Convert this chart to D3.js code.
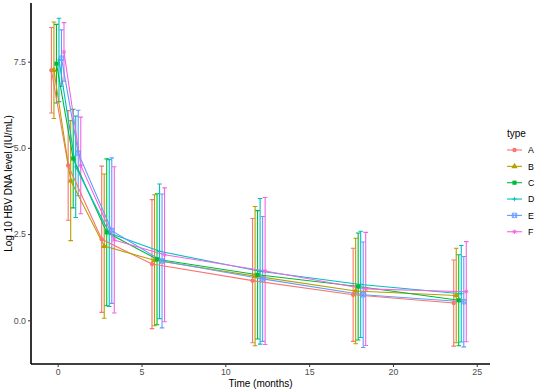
<!DOCTYPE html>
<html>
<head>
<meta charset="utf-8">
<script src="https://cdn.jsdelivr.net/npm/d3@7"></script>
<style>
  body { margin: 0; background: #fff; }
  text { font-family: "Liberation Sans", Arial, sans-serif; }
</style>
</head>
<body>
<svg id="chart"></svg>
<script>
// time points (months)
var times = [0, 1, 3, 6, 12, 18, 24];
var types = ["A", "B", "C", "D", "E", "F"];
var colors = ["#F8766D", "#B79F00", "#00BA38", "#00BFC4", "#619CFF", "#F564E3"];

// mean log10 HBV DNA and sd per type
var meanA = [7.25, 4.49, 2.35, 1.63, 1.15, 0.74, 0.50];
var sdA   = [1.24, 1.59, 2.12, 1.87, 1.80, 1.35, 1.25];
var meanB = [7.25, 4.05, 2.15, 1.74, 1.28, 0.85, 0.72];
var sdB   = [1.40, 1.74, 2.09, 1.90, 2.02, 1.53, 1.37];
var meanC = [7.44, 4.69, 2.55, 1.77, 1.32, 0.98, 0.58];
var sdC   = [1.14, 1.43, 2.13, 1.90, 1.86, 1.55, 1.32];
var meanD = [7.55, 4.45, 2.53, 2.00, 1.42, 1.04, 0.77];
var sdD   = [1.21, 1.47, 2.13, 1.95, 2.11, 1.54, 1.40];
var meanE = [7.60, 4.85, 2.60, 1.72, 1.20, 0.74, 0.54];
var sdE   = [0.82, 1.24, 2.11, 1.94, 1.81, 1.53, 1.31];
var meanF = [7.78, 4.49, 2.33, 1.90, 1.43, 0.91, 0.83];
var sdF   = [0.85, 1.40, 2.12, 1.94, 2.13, 1.64, 1.45];

var xTicks = [0, 5, 10, 15, 20, 25];
var yTicks = [0, 2.5, 5, 7.5];

var means = [meanA, meanB, meanC, meanD, meanE, meanF];
var sds = [sdA, sdB, sdC, sdD, sdE, sdF];

var series = types.map(function(t, i) {
  return {
    type: t,
    color: colors[i],
    dodge: -0.375 + i * 0.15,
    values: times.map(function(tm, j) {
      return { time: tm, mean: means[i][j], sd: sds[i][j] };
    })
  };
});

var svgWidth = 536, svgHeight = 391;
var panel = { left: 31, right: 490, top: 3, bottom: 364 };

var svg = d3.select("#chart")
  .attr("width", svgWidth)
  .attr("height", svgHeight);

var x = d3.scaleLinear()
  .domain([-1.593, 25.79])
  .range([panel.left, panel.right]);

var y = d3.scaleLinear()
  .domain([-1.267, 9.20])
  .range([panel.bottom, panel.top]);

// shapes like ggplot 16,17,15,3,7,8
function shapePath(type, s) {
  var r = s;
  switch (type) {
    case "A": return d3.symbol(d3.symbolCircle, Math.PI * r * r)();
    case "B": return d3.symbol(d3.symbolTriangle, 2.2 * r * r * 1.6)();
    case "C": return d3.symbol(d3.symbolSquare, 3.6 * r * r)();
    case "D": return "M" + (-r) + ",0H" + r + "M0," + (-r) + "V" + r;
    case "E": return "M" + (-r) + "," + (-r) + "H" + r + "V" + r + "H" + (-r) + "Z" +
                     "M" + (-r) + "," + (-r) + "L" + r + "," + r + "M" + r + "," + (-r) + "L" + (-r) + "," + r;
    case "F": var q = r * 0.72;
              return "M" + (-r) + ",0H" + r + "M0," + (-r) + "V" + r +
                     "M" + (-q) + "," + (-q) + "L" + q + "," + q + "M" + q + "," + (-q) + "L" + (-q) + "," + q;
  }
}
var filled = { A: true, B: true, C: true, D: false, E: false, F: false };

var capHalf = 0.135;

var line = d3.line()
  .x(function(d) { return x(d.px); })
  .y(function(d) { return y(d.mean); });

// error bars
series.forEach(function(s) {
  var g = svg.append("g").attr("class", "errbars");
  s.values.forEach(function(d) {
    var cx = d.time + s.dodge;
    var lo = d.mean - d.sd, hi = d.mean + d.sd;
    g.append("path")
      .attr("d", "M" + x(cx - capHalf) + "," + y(hi) + "H" + x(cx + capHalf) +
                 "M" + x(cx) + "," + y(hi) + "V" + y(lo) +
                 "M" + x(cx - capHalf) + "," + y(lo) + "H" + x(cx + capHalf))
      .attr("fill", "none")
      .attr("stroke", s.color)
      .attr("stroke-width", 1.1);
  });
});

// lines
series.forEach(function(s) {
  svg.append("path")
    .datum(s.values.map(function(d) { return { px: d.time + s.dodge, mean: d.mean }; }))
    .attr("fill", "none")
    .attr("stroke", s.color)
    .attr("stroke-width", 1.1)
    .attr("d", line);
});

// points
series.forEach(function(s) {
  svg.selectAll(null)
    .data(s.values)
    .enter()
    .append("path")
    .attr("transform", function(d) { return "translate(" + x(d.time + s.dodge) + "," + y(d.mean) + ")"; })
    .attr("d", shapePath(s.type, 2.2))
    .attr("fill", filled[s.type] ? s.color : "none")
    .attr("stroke", s.color)
    .attr("stroke-width", filled[s.type] ? 0 : 0.9);
});

// axes
var xAxis = svg.append("g")
  .attr("transform", "translate(0," + panel.bottom + ")")
  .call(d3.axisBottom(x).tickValues(xTicks).tickFormat(d3.format("d")).tickSize(3).tickPadding(2));
var yAxis = svg.append("g")
  .attr("transform", "translate(" + panel.left + ",0)")
  .call(d3.axisLeft(y).tickValues(yTicks).tickFormat(d3.format(".1f")).tickSize(3).tickPadding(2));

[xAxis, yAxis].forEach(function(a) {
  a.select(".domain").attr("stroke", "#000").attr("stroke-width", 1.6);
  a.selectAll(".tick line").attr("stroke", "#333").attr("stroke-width", 1);
  a.selectAll(".tick text")
    .attr("fill", "#4D4D4D")
    .style("font-size", "8.8px")
    .style("font-family", "'Liberation Sans', Arial, sans-serif");
});
// ggplot axis lines don't have end ticks
xAxis.select(".domain").attr("d", "M" + panel.left + ",0H" + panel.right);
yAxis.select(".domain").attr("d", "M0," + panel.bottom + "V" + panel.top);

// axis titles
svg.append("text")
  .attr("x", (panel.left + panel.right) / 2)
  .attr("y", 387)
  .attr("text-anchor", "middle")
  .style("font-size", "10px")
  .text("Time (months)");

svg.append("text")
  .attr("transform", "translate(12," + ((panel.top + panel.bottom) / 2) + ") rotate(-90)")
  .attr("text-anchor", "middle")
  .style("font-size", "10px")
  .text("Log 10 HBV DNA level (IU/mL)");

// legend
var legend = svg.append("g").attr("transform", "translate(506,0)");
legend.append("text")
  .attr("x", 1)
  .attr("y", 137)
  .style("font-size", "10px")
  .text("type");

series.forEach(function(s, i) {
  var ly = 150 + i * 16.35;
  var k = legend.append("g").attr("transform", "translate(0," + ly + ")");
  k.append("line")
    .attr("x1", 1).attr("x2", 16)
    .attr("stroke", s.color).attr("stroke-width", 1.1);
  k.append("path")
    .attr("transform", "translate(8.5,0)")
    .attr("d", shapePath(s.type, 2.2))
    .attr("fill", filled[s.type] ? s.color : "none")
    .attr("stroke", s.color)
    .attr("stroke-width", filled[s.type] ? 0 : 0.9);
  k.append("text")
    .attr("x", 22)
    .attr("y", 3.3)
    .style("font-size", "8.8px")
    .text(s.type);
});
</script>
</body>
</html>
